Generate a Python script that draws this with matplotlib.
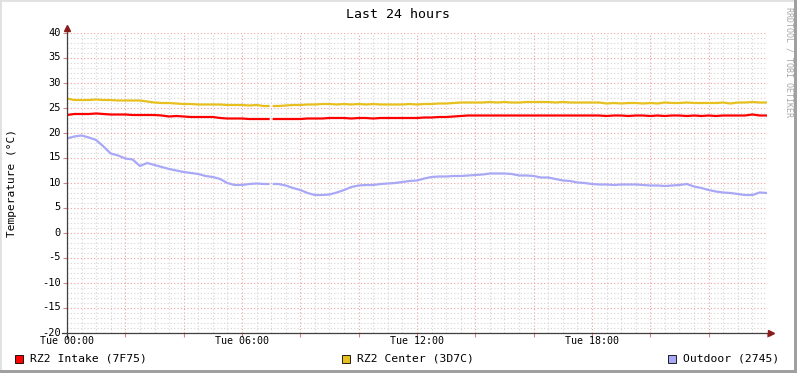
import numpy as np
import matplotlib
matplotlib.use("Agg")
import matplotlib.pyplot as plt
from matplotlib.patches import Rectangle
from matplotlib.ticker import MultipleLocator

# ---------------- data (hours since Tue 00:00, ~15-min samples, data gap at 7:00) ----------------
hours = (list(np.arange(0, 6.76, 0.25)) + [6.95, 7.0, 7.05]
         + list(np.arange(7.25, 24.01, 0.25)))

intake = [23.6, 23.8, 23.8, 23.8, 23.9, 23.8, 23.7, 23.7,
          23.7, 23.6, 23.6, 23.6, 23.6, 23.5, 23.3, 23.4,
          23.3, 23.2, 23.2, 23.2, 23.2, 23.0, 22.9, 22.9,
          22.9, 22.8, 22.8, 22.8, 22.8, np.nan, 22.8, 22.8, 22.8, 22.8,
          22.8, 22.9, 22.9, 22.9, 23.0, 23.0, 23.0, 22.9,
          23.0, 23.0, 22.9, 23.0, 23.0, 23.0, 23.0, 23.0,
          23.0, 23.1, 23.1, 23.2, 23.2, 23.3, 23.4, 23.5,
          23.5, 23.5, 23.5, 23.5, 23.5, 23.5, 23.5, 23.5,
          23.5, 23.5, 23.5, 23.5, 23.5, 23.5, 23.5, 23.5,
          23.5, 23.5, 23.4, 23.5, 23.5, 23.4, 23.5, 23.5,
          23.4, 23.5, 23.4, 23.5, 23.5, 23.4, 23.5, 23.4,
          23.5, 23.4, 23.5, 23.5, 23.5, 23.5, 23.7, 23.5, 23.5]

center = [26.9, 26.6, 26.6, 26.6, 26.7, 26.6, 26.6, 26.5,
          26.5, 26.5, 26.5, 26.3, 26.1, 26.0, 26.0, 25.9,
          25.8, 25.8, 25.7, 25.7, 25.7, 25.7, 25.6, 25.6,
          25.6, 25.5, 25.6, 25.4, 25.4, np.nan, 25.4, 25.4, 25.5, 25.6,
          25.6, 25.7, 25.7, 25.8, 25.8, 25.7, 25.8, 25.7,
          25.8, 25.7, 25.8, 25.7, 25.7, 25.7, 25.7, 25.8,
          25.7, 25.8, 25.8, 25.9, 25.9, 26.0, 26.1, 26.1,
          26.1, 26.1, 26.2, 26.1, 26.2, 26.1, 26.1, 26.2,
          26.2, 26.2, 26.2, 26.1, 26.2, 26.1, 26.1, 26.1,
          26.1, 26.1, 25.9, 26.0, 25.9, 26.0, 26.0, 25.9,
          26.0, 25.9, 26.1, 26.0, 26.0, 26.1, 26.0, 26.0,
          26.0, 26.0, 26.1, 25.9, 26.1, 26.1, 26.2, 26.1, 26.1]

outdoor = [18.9, 19.3, 19.5, 19.1, 18.6, 17.3, 15.9, 15.5,
           14.9, 14.7, 13.4, 14.0, 13.6, 13.2, 12.8, 12.5,
           12.2, 12.0, 11.8, 11.4, 11.2, 10.8, 10.0, 9.6,
           9.6, 9.8, 9.9, 9.8, 9.8, np.nan, 9.8, 9.8, 9.5, 9.0,
           8.6, 8.0, 7.6, 7.6, 7.7, 8.1, 8.6, 9.2,
           9.5, 9.6, 9.6, 9.8, 9.9, 10.0, 10.2, 10.4,
           10.5, 10.9, 11.2, 11.3, 11.3, 11.4, 11.4, 11.5,
           11.6, 11.7, 11.9, 11.9, 11.9, 11.8, 11.5, 11.5,
           11.4, 11.1, 11.1, 10.8, 10.5, 10.4, 10.1, 10.0,
           9.8, 9.7, 9.7, 9.6, 9.7, 9.7, 9.7, 9.6,
           9.5, 9.5, 9.4, 9.5, 9.6, 9.8, 9.3, 9.0,
           8.6, 8.3, 8.1, 8.0, 7.8, 7.6, 7.6, 8.1, 8.0]

series_names = ["RZ2 Intake (7F75)", "RZ2 Center (3D7C)", "Outdoor (2745)"]
series_colors = ["#FF0000", "#E8C01E", "#A8A8F6"]

xtick_pos = [0, 6, 12, 18]
xtick_labels = ["Tue 00:00", "Tue 06:00", "Tue 12:00", "Tue 18:00"]
ytick_vals = [-20, -15, -10, -5, 0, 5, 10, 15, 20, 25, 30, 35, 40]

# ---------------- figure ----------------
W, H = 797, 373
fig = plt.figure(figsize=(W / 100, H / 100), dpi=100)
fig.patch.set_facecolor("white")
mono = "DejaVu Sans Mono"

L, R, B, T = 67, 767, 333, 33
ax = fig.add_axes([L / W, (H - B) / H, (R - L) / W, (B - T) / H])
ax.set_xlim(0, 24)
ax.set_ylim(-20, 40)
for s in ax.spines.values():
    s.set_visible(False)

# grid
ax.xaxis.set_major_locator(MultipleLocator(2))
ax.xaxis.set_minor_locator(MultipleLocator(0.5))
ax.yaxis.set_major_locator(MultipleLocator(5))
ax.yaxis.set_minor_locator(MultipleLocator(1))
ax.grid(which="minor", color="#D4D4D4", linestyle=(0, (1, 2)), linewidth=0.8)
ax.grid(which="major", color="#EFA0A0", linestyle=(0, (1, 2)), linewidth=0.8)
ax.set_axisbelow(True)
ax.tick_params(which="minor", length=0)
ax.tick_params(which="major", length=3, width=0.8, color="#E08080", direction="out",
               pad=1, labelbottom=False, labelleft=False)


def fy(py):
    return 1 - py / H


# tick labels
for p, lab in zip(xtick_pos, xtick_labels):
    px = L + p / 24 * (R - L)
    fig.text(px / W, fy(341.5), lab, ha="center", va="center",
             fontsize=7.2, family=mono, color="#000000")
for v in ytick_vals:
    fig.text(61 / W, fy(T + (40 - v) * 5 - 0.5), str(v), ha="right", va="center",
             fontsize=7.5, family=mono, color="#000000")

# data lines
for vals, col in zip([intake, center, outdoor], series_colors):
    ax.plot(hours, vals, color=col, lw=1.6, solid_capstyle="butt",
            solid_joinstyle="miter", zorder=3)

# axes lines with arrows
ax.plot([-0.17, 24.1], [-20, -20], color="#404040", lw=0.9, clip_on=False, zorder=4)
ax.plot([0, 0], [-21, 41], color="#404040", lw=0.9, clip_on=False, zorder=4)
ax.plot([24.15], [-20], marker=">", color="#8B1A1A", markersize=4, clip_on=False, zorder=5)
ax.plot([0], [41.0], marker="^", color="#8B1A1A", markersize=4, clip_on=False, zorder=5)

# title and labels
fig.text(398 / W, fy(14), "Last 24 hours", ha="center", va="center",
         fontsize=9.5, family=mono, color="#000000")
fig.text(12 / W, fy(183), "Temperature (°C)", ha="center", va="center",
         rotation=90, fontsize=8, family=mono, color="#000000")
fig.text(789 / W, fy(62), "RRDTOOL / TOBI OETIKER", ha="center", va="center",
         rotation=-90, fontsize=6, family=mono, color="#A8A8A8")

# legend
leg_sq = [15, 342, 668]
for x0, name, col in zip(leg_sq, series_names, series_colors):
    fig.patches.append(Rectangle((x0 / W, fy(363)), 8 / W, 8 / H,
                                 transform=fig.transFigure, facecolor=col,
                                 edgecolor="black", linewidth=0.6))
    fig.text((x0 + 15) / W, fy(358.5), name, ha="left", va="center",
             fontsize=8.2, family=mono, color="#000000")

# frame
fig.patches.append(Rectangle((0, 0), 1, 1, transform=fig.transFigure, fill=False,
                             edgecolor="#E0E0E0", linewidth=2))
fig.patches.append(Rectangle((1 - 3 / W, 0), 3 / W, 1, transform=fig.transFigure,
                             facecolor="#A0A0A0", edgecolor="none"))
fig.patches.append(Rectangle((0, 0), 1, 3 / H, transform=fig.transFigure,
                             facecolor="#A0A0A0", edgecolor="none"))

fig.savefig("out.png", dpi=100)
